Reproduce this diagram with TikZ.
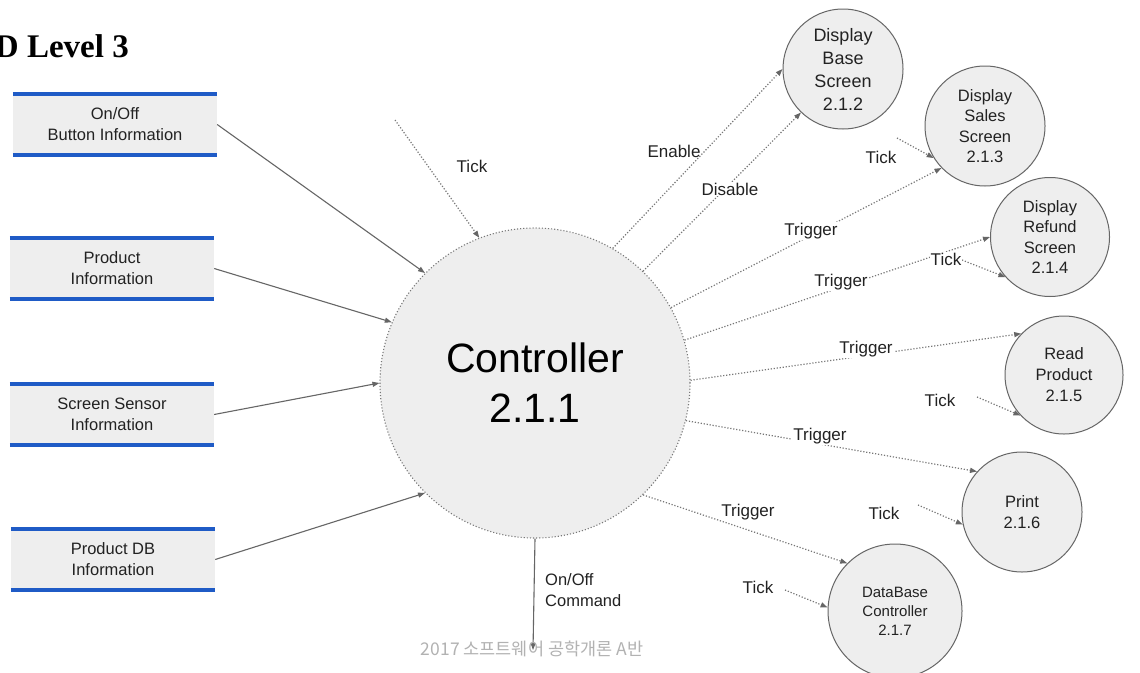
\documentclass[tikz,border=0pt]{standalone}
\usepackage{fontspec}
\setmainfont{Liberation Sans}
\newfontfamily\titlefont{Liberation Serif}
\newfontfamily\krfont{Noto Sans CJK KR}
\usetikzlibrary{arrows.meta}
\definecolor{boxfill}{HTML}{EEEEEE}
\definecolor{boxblue}{HTML}{1F5BC6}
\definecolor{linegray}{HTML}{666666}
\definecolor{dotgray}{HTML}{777777}
\definecolor{txt}{HTML}{222222}
\tikzset{
  databox/.style={fill=boxfill, minimum width=204pt, minimum height=61pt, inner sep=0pt, align=center, text=txt, font=\fontsize{16.5}{21}\selectfont},
  blueline/.style={draw=boxblue, line width=3.5pt},
  proc/.style={circle, draw=linegray, line width=1pt, fill=boxfill, inner sep=0pt, align=center, text=txt},
  ctrlstyle/.style={circle, draw=dotgray, line width=1.1pt, dash pattern=on 1.1pt off 2pt, fill=boxfill, inner sep=0pt, minimum size=310pt, align=center, text=black, font=\fontsize{41}{50}\selectfont},
  solidarrow/.style={draw=linegray, line width=1.1pt, -{Triangle[length=7pt,width=5pt]}},
  dotarrow/.style={draw=dotgray, line width=1.2pt, dash pattern=on 1.2pt off 1.8pt, -{Triangle[length=7pt,width=5pt,color=linegray,fill=linegray]}},
  lbl/.style={text=txt, font=\fontsize{17}{20}\selectfont, inner sep=1pt, fill=white},
  lblnf/.style={text=txt, font=\fontsize{17}{20}\selectfont, inner sep=1pt}
}
\begin{document}
\begin{tikzpicture}[x=1pt,y=-1pt]
\path[use as bounding box, clip] (0,0) rectangle (1140,672);
\fill[white] (0,0) rectangle (1140,672);

% title
\node[anchor=base east, inner sep=0pt, font=\titlefont\bfseries\fontsize{33}{38}\selectfont] (title) at (129,57) {D Level 3};

% left data boxes
\node[databox] (b1) at (115,124.5) {On/Off\\Button Information};
\node[databox] (b2) at (112,268.5) {Product\\Information};
\node[databox] (b3) at (112,414.5) {Screen Sensor\\Information};
\node[databox] (b4) at (113,559.5) {Product DB\\Information};
\foreach \b in {b1,b2,b3,b4}{
  \draw[blueline] (\b.north west) -- (\b.north east);
  \draw[blueline] (\b.south west) -- (\b.south east);
}

% controller
\node[ctrlstyle] (ctrl) at (535,383) {Controller\\2.1.1};

% processes
\node[proc, minimum size=120pt, font=\fontsize{18}{23}\selectfont] (base) at (843,69) {Display\\Base\\Screen\\2.1.2};
\node[proc, minimum size=120pt, font=\fontsize{16.5}{20.5}\selectfont] (sales) at (985,126) {Display\\Sales\\Screen\\2.1.3};
\node[proc, minimum size=119pt, font=\fontsize{16.5}{20.5}\selectfont] (refund) at (1050,237) {Display\\Refund\\Screen\\2.1.4};
\node[proc, minimum size=118pt, font=\fontsize{16.5}{21}\selectfont] (read) at (1064,375) {Read\\Product\\2.1.5};
\node[proc, minimum size=120pt, font=\fontsize{16.5}{20.5}\selectfont] (print) at (1022,512) {Print\\2.1.6};
\node[proc, minimum size=134pt, font=\fontsize{15}{19}\selectfont] (db) at (895,611) {DataBase\\Controller\\2.1.7};

% inputs from data boxes
\draw[solidarrow] (b1.east) -- (ctrl.135);
\draw[solidarrow] (b2.east) -- (ctrl.157);
\draw[solidarrow] (b3.east) -- (ctrl.180);
\draw[solidarrow] (b4.east) -- (ctrl.225);

% free tick sources
\coordinate (t0) at (395,120);
\coordinate (t1) at (897,138);
\coordinate (t2) at (962,260);
\coordinate (t3) at (977,397);
\coordinate (t4) at (918,505);
\coordinate (t5) at (785,590);
\coordinate (cmd) at (533,650);

% dotted flows
\draw[dotarrow] (t0) -- (ctrl.111);
\draw[dotarrow] (ctrl.60) -- (base.180);
\draw[dotarrow] (ctrl.46) -- (base.226);
\draw[dotarrow] (ctrl.29) -- (sales.224);
\draw[dotarrow] (t1) -- (sales.212);
\draw[dotarrow] (ctrl.16) -- (refund.180);
\draw[dotarrow] (t2) -- (refund.222);
\draw[dotarrow] (ctrl.1) -- (read.136);
\draw[dotarrow] (t3) -- (read.223);
\draw[dotarrow] (ctrl.-14) -- (print.138);
\draw[dotarrow] (t4) -- (print.192);
\draw[dotarrow] (ctrl.-46) -- (db.135);
\draw[dotarrow] (t5) -- (db.177);

% on/off command
\draw[solidarrow] (ctrl.south) -- (cmd);

% labels
\node[lblnf] (l0) at (472,166) {Tick};
\node[lblnf] (l1) at (674,151) {Enable};
\node[lbl] (l2) at (730,189) {Disable};
\node[lbl] (l3) at (811,231) {Trigger};
\node[lblnf] (l4) at (881,157) {Tick};
\node[lbl] (l5) at (841,282) {Trigger};
\node[lbl] (l6) at (946,259) {Tick};
\node[lbl] (l7) at (866,349) {Trigger};
\node[lblnf] (l8) at (940,400) {Tick};
\node[lbl] (l9) at (820,436) {Trigger};
\node[lblnf] (l10) at (884,513) {Tick};
\node[lblnf] (l11) at (748,512) {Trigger};
\node[lblnf] (l12) at (758,587) {Tick};
\node[anchor=west, align=left, text=txt, font=\fontsize{16.5}{21}\selectfont, inner sep=0pt] (l13) at (545,590) {On/Off\\Command};

% watermark
\node[text=black!30, font=\krfont\fontsize{17.5}{20}\selectfont, inner sep=0pt] (wm) at (532,649) {2017 소프트웨어 공학개론 A반};
\end{tikzpicture}
\end{document}
